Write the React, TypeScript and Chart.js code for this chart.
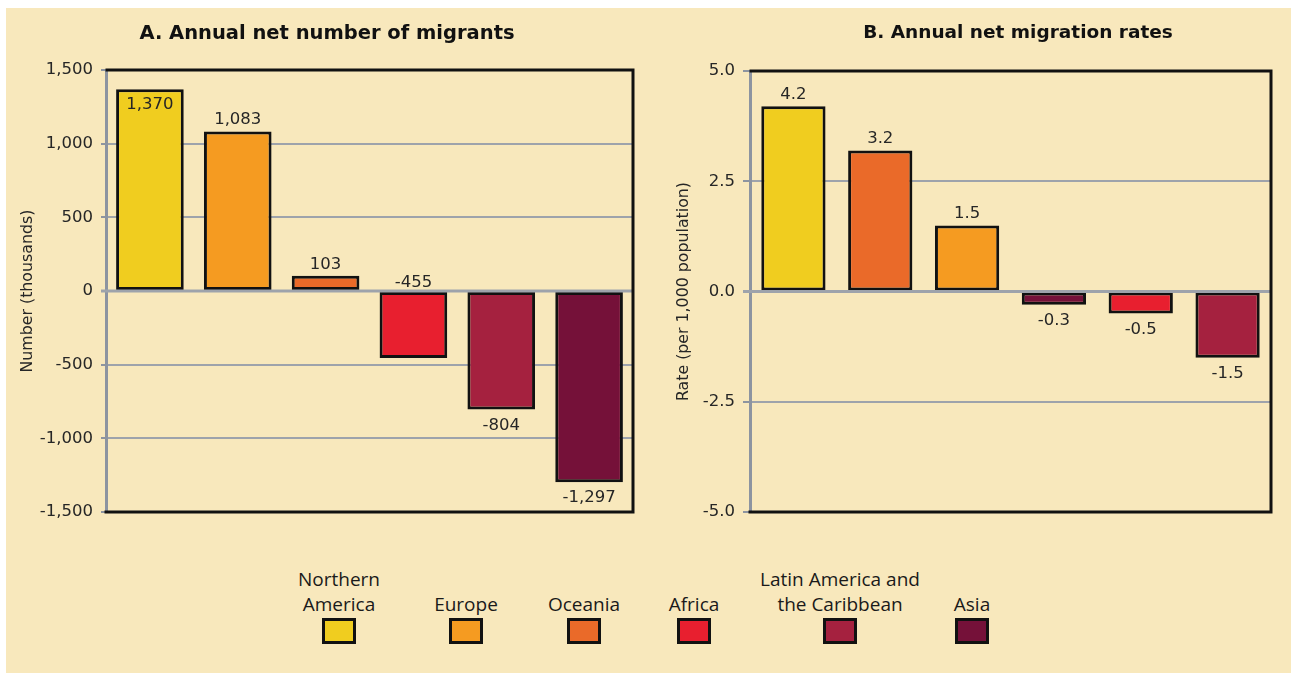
import React, { useEffect, useRef } from "react";
import { Chart, registerables } from "chart.js";

Chart.register(...registerables);

// ---------- DATA ----------
const regionsA = ["Northern America", "Europe", "Oceania", "Africa", "Latin America and the Caribbean", "Asia"];
const migrantsA = [1370, 1083, 103, -455, -804, -1297];
const regionsB = ["Northern America", "Oceania", "Europe", "Asia", "Africa", "Latin America and the Caribbean"];
const ratesB = [4.2, 3.2, 1.5, -0.3, -0.5, -1.5];
const ticksA = [-1500, -1000, -500, 0, 500, 1000, 1500];
const ticksB = [-5, -2.5, 0, 2.5, 5];
const legendRegions = ["Northern America", "Europe", "Oceania", "Africa", "Latin America and the Caribbean", "Asia"];
const legendLabels = [["Northern", "America"], ["Europe"], ["Oceania"], ["Africa"], ["Latin America and", "the Caribbean"], ["Asia"]];

// ---------- STYLE ----------
const regionColors: Record<string, string> = {
  "Northern America": "#F0CD1F",
  "Europe": "#F59B21",
  "Oceania": "#EA6A29",
  "Africa": "#E81F2F",
  "Latin America and the Caribbean": "#A5213F",
  "Asia": "#751139",
};
const labelPlacementA = ["inside", "end", "end", "base", "end", "end"];
const labelPlacementB = ["end", "end", "end", "end", "end", "end"];
const legendCenters = [339, 466, 584, 694, 840, 972];
const BG = "#F8E8BC";
const GRID = "#9EA3AB";
const AXIS = "#8D94A0";
const TEXT = "#262626";
const FONT = "'DejaVu Sans', sans-serif";

const fmtA = (v: number) => Number(v).toLocaleString("en-US");
const fmtB = (v: number) => Number(v).toFixed(1);

const zeroLinePlugin = {
  id: "zeroLine",
  afterDatasetsDraw(chart: any, _a: any, opts: any) {
    const { ctx, chartArea } = chart;
    const y = chart.scales.y.getPixelForValue(0);
    ctx.save();
    ctx.strokeStyle = GRID;
    ctx.lineWidth = 3;
    ctx.beginPath();
    ctx.moveTo(chartArea.left - (opts.tick || 0), y);
    ctx.lineTo(chartArea.right, y);
    ctx.stroke();
    ctx.restore();
  },
};

const valueLabelPlugin = {
  id: "valueLabels",
  afterDatasetsDraw(chart: any, _a: any, opts: any) {
    const { ctx } = chart;
    const meta = chart.getDatasetMeta(0);
    const values = chart.data.datasets[0].data as number[];
    const size = opts.size || 16.5;
    const cap = size * 0.73;
    ctx.save();
    ctx.font = `${size}px ${FONT}`;
    ctx.fillStyle = TEXT;
    ctx.textAlign = "center";
    ctx.textBaseline = "alphabetic";
    meta.data.forEach((bar: any, i: number) => {
      const v = values[i];
      const place = opts.placement[i];
      let y: number;
      if (place === "inside") y = bar.y + 8 + cap;
      else if (place === "base") y = bar.base - 5;
      else if (v >= 0) y = bar.y - 7;
      else y = bar.y + 8 + cap;
      ctx.fillText(opts.format(v), bar.x, y);
    });
    ctx.restore();
  },
};

const framePlugin = {
  id: "frame",
  afterDraw(chart: any) {
    const { ctx, chartArea } = chart;
    const { left, right, top, bottom } = chartArea;
    ctx.save();
    ctx.strokeStyle = "#111";
    ctx.lineWidth = 3;
    ctx.lineCap = "square";
    ctx.beginPath();
    ctx.moveTo(left + 1, top);
    ctx.lineTo(right, top);
    ctx.lineTo(right, bottom);
    ctx.lineTo(left, bottom);
    ctx.stroke();
    ctx.restore();
  },
};

const panelTitlePlugin = {
  id: "panelTitle",
  afterDraw(chart: any, _a: any, opts: any) {
    const { ctx } = chart;
    ctx.save();
    ctx.font = `bold ${opts.size}px ${FONT}`;
    ctx.fillStyle = "#111";
    ctx.textAlign = "center";
    ctx.textBaseline = "alphabetic";
    ctx.fillText(opts.text, opts.x, opts.y);
    ctx.restore();
  },
};

function makeConfig(p: {
  labels: string[];
  values: number[];
  min: number;
  max: number;
  tickValues: number[];
  fmt: (v: number) => string;
  barPct: number;
  padding: any;
  axisWidth: number;
  tickLength: number;
  tickPadding: number;
  yTitle: string;
  yTitlePad: number;
  title: string;
  titleX: number;
  titleY: number;
  titleSize: number;
  placement: string[];
}) {
  return {
    type: "bar",
    data: {
      labels: p.labels,
      datasets: [
        {
          data: p.values,
          backgroundColor: p.labels.map((r) => regionColors[r]),
          borderColor: "#111",
          borderWidth: 3,
          borderSkipped: false,
          barPercentage: p.barPct,
          categoryPercentage: 1,
        },
      ],
    },
    options: {
      animation: false,
      responsive: false,
      maintainAspectRatio: false,
      events: [],
      layout: { padding: p.padding },
      plugins: {
        legend: { display: false },
        tooltip: { enabled: false },
        title: { display: false },
        zeroLine: { tick: p.tickLength },
        valueLabels: { placement: p.placement, format: p.fmt, size: 16.5 },
        panelTitle: { text: p.title, x: p.titleX, y: p.titleY, size: p.titleSize },
      },
      scales: {
        x: { display: false },
        y: {
          min: p.min,
          max: p.max,
          afterBuildTicks: (scale: any) => {
            scale.ticks = p.tickValues.map((v) => ({ value: v }));
          },
          afterFit: (scale: any) => {
            scale.width = p.axisWidth;
          },
          ticks: {
            callback: (v: any) => p.fmt(Number(v)),
            font: { family: FONT, size: 16.5 },
            color: TEXT,
            padding: p.tickPadding,
            autoSkip: false,
          },
          grid: {
            color: GRID,
            lineWidth: 2,
            tickLength: p.tickLength,
            tickColor: AXIS,
            tickWidth: 2,
          },
          border: { display: true, color: AXIS, width: 3 },
          title: {
            display: true,
            text: p.yTitle,
            font: { family: FONT, size: 15.8 },
            color: TEXT,
            padding: { top: p.yTitlePad, bottom: 0 },
          },
        },
      },
    },
    plugins: [zeroLinePlugin, valueLabelPlugin, framePlugin, panelTitlePlugin],
  } as any;
}

export default function App() {
  const refA = useRef<HTMLCanvasElement>(null);
  const refB = useRef<HTMLCanvasElement>(null);

  useEffect(() => {
    const a = new Chart(
      refA.current!,
      makeConfig({
        labels: regionsA,
        values: migrantsA,
        min: -1500,
        max: 1500,
        tickValues: ticksA,
        fmt: fmtA,
        barPct: 0.77,
        padding: { top: 70, right: 19, bottom: 16, left: 0 },
        axisWidth: 106,
        tickLength: 5,
        tickPadding: 8,
        yTitle: "Number (thousands)",
        yTitlePad: 18,
        title: "A. Annual net number of migrants",
        titleX: 327,
        titleY: 39,
        titleSize: 19.5,
        placement: labelPlacementA,
      })
    );
    const b = new Chart(
      refB.current!,
      makeConfig({
        labels: regionsB,
        values: ratesB,
        min: -5,
        max: 5,
        tickValues: ticksB,
        fmt: fmtB,
        barPct: 0.74,
        padding: { top: 71, right: 20, bottom: 16, left: 0 },
        axisWidth: 98,
        tickLength: 7,
        tickPadding: 8,
        yTitle: "Rate (per 1,000 population)",
        yTitlePad: 22,
        title: "B. Annual net migration rates",
        titleX: 366,
        titleY: 38,
        titleSize: 18.5,
        placement: labelPlacementB,
      })
    );
    return () => {
      a.destroy();
      b.destroy();
    };
  }, []);

  return (
    <div
      style={{
        position: "fixed",
        left: 0,
        top: 0,
        width: 1291,
        height: 673,
        background: "#fff",
        overflow: "hidden",
      }}
    >
      <div style={{ position: "absolute", left: 6, top: 8, right: 0, bottom: 0, background: BG }} />
      <canvas
        ref={refA}
        width={652}
        height={530}
        style={{ position: "absolute", left: 0, top: 0, width: 652, height: 530 }}
      />
      <canvas
        ref={refB}
        width={639}
        height={530}
        style={{ position: "absolute", left: 652, top: 0, width: 639, height: 530 }}
      />
      {legendRegions.map((r, i) => (
        <div
          key={r}
          style={{
            position: "absolute",
            left: legendCenters[i] - 110,
            top: 567,
            width: 220,
            height: 78,
            textAlign: "center",
            fontFamily: "'Open Sans', sans-serif",
            fontSize: 19,
            color: "#1a1a1a",
          }}
        >
          <div
            style={{
              height: 50,
              display: "flex",
              flexDirection: "column",
              justifyContent: "flex-end",
              lineHeight: "25px",
              whiteSpace: "nowrap",
            }}
          >
            {legendLabels[i].map((t) => (
              <div key={t}>{t}</div>
            ))}
          </div>
          <div
            style={{
              position: "absolute",
              left: 110 - 17,
              top: 51,
              width: 34,
              height: 26,
              boxSizing: "border-box",
              border: "3px solid #111",
              background: regionColors[r],
            }}
          />
        </div>
      ))}
    </div>
  );
}
